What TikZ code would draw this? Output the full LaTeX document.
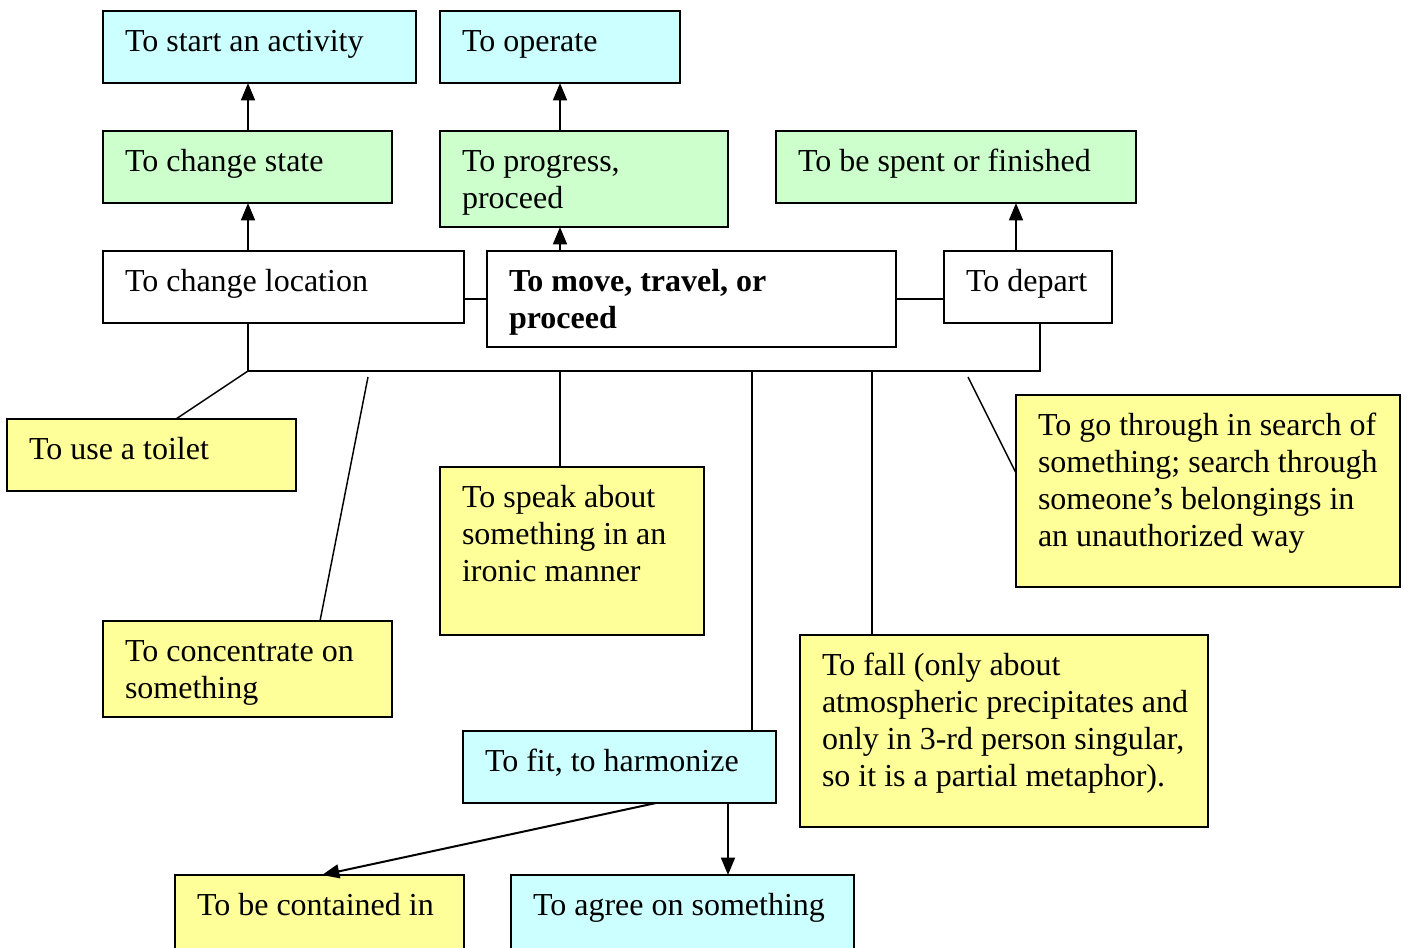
\documentclass[tikz,border=0pt]{standalone}
\usepackage{fontspec}
\setmainfont{Liberation Serif}
\usetikzlibrary{arrows.meta,calc}
\definecolor{boxcyan}{HTML}{CCFFFF}
\definecolor{boxgreen}{HTML}{CCFFCC}
\definecolor{boxyellow}{HTML}{FFFF99}
% \sensebox{name}{x1}{y1}{x2}{y2}{fill}{text}: a framed box with its text set at the top left
\newcommand\sensebox[7]{%
  \node[box, fill=#6, minimum width={(#4-#2)*0.375pt}, minimum height={(#5-#3)*0.375pt}] (#1) at (#2,#3) {};
  \node[lbl] (#1-t) at ({#2+22},{#3+40}) {\parbox[t]{400pt}{\raggedright #7}};
}
\begin{document}
\begin{tikzpicture}[x=0.375pt,y=-0.375pt,
  box/.style={draw=black, line width=0.8pt, anchor=north west, inner sep=0pt, outer sep=0pt},
  lbl/.style={anchor=base west, inner sep=0pt, outer sep=0pt, font=\fontsize{12}{13.875}\selectfont},
  conn/.style={draw=black, line width=0.75pt},
  thin/.style={draw=black, line width=0.55pt},
  arr/.style={conn, -{Triangle[length=6.5pt, width=5.2pt]}}]
\clip (0,0) rectangle (1409,947);
\useasboundingbox (0,0) rectangle (1409,947);

% upper senses
\sensebox{start}{103}{11}{416}{83}{boxcyan}{To start an activity}
\sensebox{operate}{440}{11}{680}{83}{boxcyan}{To operate}
\sensebox{state}{103}{131}{392}{203}{boxgreen}{To change state}
\sensebox{progress}{440}{131}{728}{227}{boxgreen}{To progress,\\proceed}
\sensebox{spent}{776}{131}{1136}{203}{boxgreen}{To be spent or finished}

% central row
\sensebox{location}{103}{251}{464}{323}{white}{To change location}
\sensebox{move}{487}{251}{896}{347}{white}{\bfseries To move, travel, or\\proceed}
\sensebox{depart}{944}{251}{1112}{323}{white}{To depart}

% lower senses
\sensebox{toilet}{7}{419}{296}{491}{boxyellow}{To use a toilet}
\sensebox{concentrate}{103}{621}{392}{717}{boxyellow}{To concentrate on\\something}
\sensebox{speak}{440}{467}{704}{635}{boxyellow}{To speak about\\something in an\\ironic manner}
\sensebox{search}{1016}{395}{1400}{587}{boxyellow}{To go through in search of\\something; search through\\someone’s belongings in\\an unauthorized way}
\sensebox{fall}{800}{635}{1208}{827}{boxyellow}{To fall (only about\\atmospheric precipitates and\\only in 3-rd person singular,\\so it is a partial metaphor).}
\sensebox{fit}{463}{731}{776}{803}{boxcyan}{To fit, to harmonize}
\sensebox{contained}{175}{875}{464}{990}{boxyellow}{To be contained in}
\sensebox{agree}{511}{875}{854}{990}{boxcyan}{To agree on something}

% arrows between the upper senses
\draw[arr] (248,0 |- state.north) -- (248,0 |- start.south);
\draw[arr] (248,0 |- location.north) -- (248,0 |- state.south);
\draw[arr] (560,0 |- progress.north) -- (560,0 |- operate.south);
\draw[arr] (560,0 |- move.north) -- (560,0 |- progress.south);
\draw[arr] (1016,0 |- depart.north) -- (1016,0 |- spent.south);

% links of the central row
\draw[conn] (location.east |- move.west) -- (move.west);
\draw[conn] (move.east) -- (depart.west |- move.east);

% bus under the central row
\coordinate (busL) at (248,371);
\coordinate (busR) at (1040,371);
\draw[conn] (248,0 |- location.south) -- (busL) -- (busR) -- (1040,0 |- depart.south);

% branches to the lower senses
\draw[thin] (busL) -- (176,0 |- toilet.north);
\coordinate (concTop) at (368,377);
\draw[thin] (concTop) -- (320,0 |- concentrate.north);
\draw[conn] (560,371) -- (560,0 |- speak.north);
\draw[conn] (752,371) -- (752,0 |- fit.north);
\draw[conn] (872,371) -- (872,0 |- fall.north);
\coordinate (searchTop) at (968,377);
\draw[thin] (searchTop) -- ($(search.north west)+(0,78)$);

% arrows from "To fit, to harmonize"
\draw[arr] (656,0 |- fit.south) -- (322,0 |- contained.north);
\draw[arr] (728,0 |- fit.south) -- (728,0 |- agree.north);
\end{tikzpicture}
\end{document}
